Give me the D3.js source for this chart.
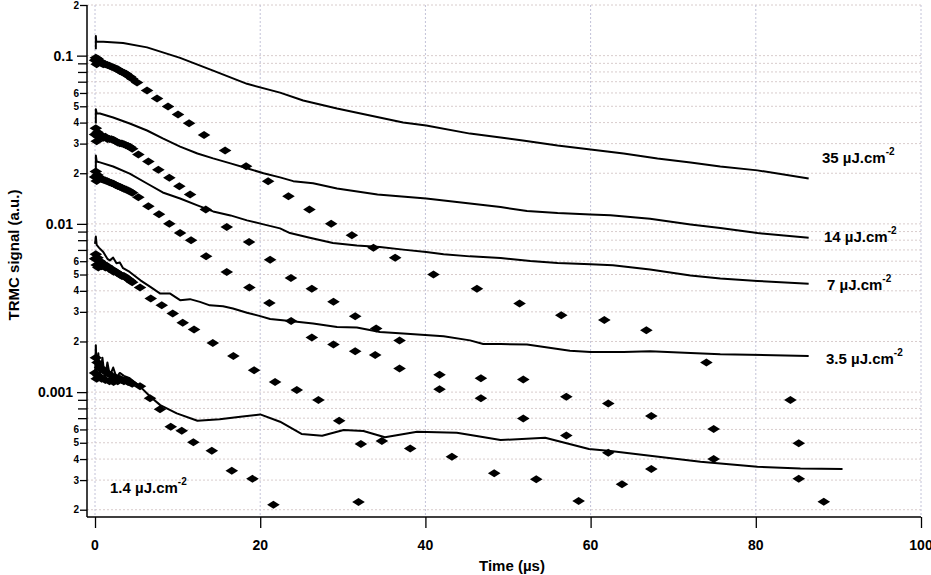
<!DOCTYPE html>
<html>
<head>
<meta charset="utf-8">
<title>TRMC decays</title>
<script src="https://d3js.org/d3.v7.min.js"></script>
<style>
  body { margin: 0; background: #fff; }
  text { font-family: "Liberation Sans", Arial, sans-serif; font-weight: bold; fill: #000; }
</style>
</head>
<body>
<div id="chart"></div>
<script>
// solid lines: [time (µs), TRMC signal]
const line35 = [[0.1,0.109],[0.1,0.131],[0.15,0.121],[1.0,0.121],[3.4,0.119],[6.3,0.112],[10.3,0.097],[14.3,0.0815],[18.4,0.068],[22.4,0.0603],[25.2,0.0541],[29.3,0.0485],[33.3,0.0441],[37.3,0.0400],[40.1,0.0384],[45.4,0.0344],[49.1,0.0326],[51.8,0.0313],[56.0,0.0292],[60.0,0.0277],[64.0,0.0262],[68.1,0.0245],[72.1,0.0232],[75.7,0.0219],[80.2,0.0208],[86.4,0.0186]];
const line14 = [[0.1,0.0395],[0.1,0.048],[0.2,0.0455],[0.6,0.0453],[2.2,0.0429],[4.2,0.0395],[6.3,0.0359],[8.2,0.0322],[10.3,0.0288],[12.4,0.0262],[14.3,0.0245],[16.4,0.0229],[18.4,0.0214],[20.4,0.0200],[22.4,0.0189],[24.0,0.01795],[26.4,0.01746],[29.3,0.01625],[34.2,0.01496],[40.1,0.01416],[45.4,0.01323],[49.1,0.01258],[52.3,0.01191],[56.0,0.01159],[60.0,0.01138],[62.4,0.01127],[67.2,0.01073],[72.1,0.00993],[75.7,0.00945],[80.2,0.00882],[86.4,0.00827]];
const line7 = [[0.1,0.0202],[0.1,0.0255],[0.2,0.0235],[0.6,0.0232],[2.2,0.02194],[4.2,0.0199],[6.3,0.01738],[8.2,0.01537],[10.3,0.01416],[12.4,0.01288],[14.3,0.01186],[16.4,0.01123],[18.4,0.01049],[20.4,0.00993],[22.4,0.0094],[23.6,0.00882],[26.0,0.00828],[28.8,0.00769],[31.7,0.00745],[34.5,0.00728],[37.3,0.00703],[40.1,0.0068],[42.2,0.00659],[45.4,0.00641],[49.1,0.00627],[52.7,0.00601],[56.0,0.00585],[60.0,0.00575],[62.7,0.00567],[67.2,0.00535],[72.1,0.00494],[75.7,0.00473],[80.2,0.00458],[86.4,0.00441]];
const line3_5 = [[0,0.0076],[0.1,0.0084],[0.2,0.0075],[0.5,0.0072],[1.0,0.0068],[1.5,0.0062],[1.8,0.00607],[2.2,0.0063],[2.6,0.00583],[3.0,0.0059],[3.4,0.00545],[4.2,0.00518],[5.5,0.00462],[6.7,0.00422],[7.9,0.00385],[9.1,0.00385],[10.3,0.00352],[11.5,0.00357],[12.7,0.00344],[13.9,0.00328],[15.5,0.00324],[16.7,0.00314],[18.4,0.00296],[20.0,0.00283],[21.2,0.00272],[23.6,0.00265],[26.4,0.00256],[29.3,0.00244],[31.7,0.00242],[34.5,0.00228],[37.3,0.00223],[42.2,0.00215],[45.4,0.00203],[47.0,0.00193],[49.1,0.00193],[52.3,0.00192],[57.5,0.00176],[60.0,0.00173],[64.0,0.00173],[67.2,0.00175],[72.1,0.00171],[75.7,0.00168],[86.4,0.00164]];
const line1_4 = [[0,0.0012],[0.1,0.0019],[0.2,0.0013],[0.4,0.0017],[0.6,0.00125],[0.9,0.0016],[1.2,0.0012],[1.5,0.0015],[1.8,0.00125],[2.2,0.0014],[2.6,0.00122],[3.0,0.0013],[3.5,0.00125],[4.2,0.00121],[5.5,0.001075],[6.7,0.000938],[7.9,0.000837],[9.9,0.000747],[12.4,0.000676],[15.1,0.000689],[17.6,0.000713],[20.0,0.000737],[22.4,0.000667],[25.0,0.000564],[27.5,0.000551],[30.1,0.000595],[32.5,0.000587],[35.1,0.000539],[39.0,0.000581],[43.8,0.000573],[46.2,0.000548],[49.1,0.000519],[54.5,0.000536],[59.8,0.000459],[62.4,0.000447],[67.2,0.000419],[73.3,0.000386],[80.2,0.00036],[85.4,0.000352],[90.5,0.000349]];

// diamond series: [time (µs), TRMC signal]
const pts35 = [[0,0.094],[0.1,0.097],[0.2,0.089],[0.3,0.096],[0.4,0.091],[0.6,0.093],[0.8,0.090],[1.0,0.089],[1.25,0.089],[1.5,0.088],[1.75,0.087],[2.0,0.086],[2.25,0.085],[2.5,0.084],[2.75,0.083],[3.0,0.081],[3.25,0.080],[3.5,0.079],[3.75,0.078],[4.0,0.076],[4.25,0.075],[4.5,0.073],[5.09,0.0692],[6.30,0.0620],[7.51,0.0556],[8.84,0.0498],[10.05,0.0447],[11.39,0.0397],[13.20,0.0338],[15.75,0.0273],[18.29,0.0220],[20.96,0.01795],[23.42,0.01462],[25.96,0.01219],[28.59,0.01003],[31.10,0.00855],[33.71,0.00722],[36.34,0.00630],[40.98,0.00501],[46.24,0.00412],[51.40,0.00336],[56.45,0.00286],[61.66,0.00268],[66.75,0.00233],[74.02,0.00150],[84.19,0.000897]];
const pts14 = [[0,0.034],[0.1,0.037],[0.2,0.031],[0.3,0.035],[0.4,0.033],[0.6,0.034],[0.8,0.033],[1.0,0.0325],[1.25,0.033],[1.5,0.032],[1.75,0.032],[2.0,0.0318],[2.25,0.0315],[2.5,0.031],[2.75,0.0305],[3.0,0.0302],[3.25,0.030],[3.5,0.0297],[3.75,0.0293],[4.0,0.029],[4.25,0.0286],[4.5,0.028],[5.25,0.02585],[6.46,0.0235],[7.67,0.0210],[9.00,0.0188],[10.21,0.01676],[11.51,0.01496],[13.41,0.01219],[15.95,0.00957],[18.65,0.00780],[21.20,0.00613],[23.72,0.00477],[26.25,0.00412],[28.87,0.00344],[31.50,0.00282],[34.04,0.00239],[36.87,0.00203],[41.71,0.00127],[46.72,0.00121],[51.85,0.00119],[57.06,0.000937],[62.14,0.000857],[67.35,0.000720],[74.90,0.000603],[85.20,0.000496]];
const pts7 = [[0,0.019],[0.1,0.0205],[0.2,0.018],[0.3,0.0195],[0.4,0.0188],[0.6,0.0187],[0.8,0.0185],[1.0,0.0183],[1.25,0.0181],[1.5,0.0179],[1.75,0.0177],[2.0,0.0175],[2.25,0.0173],[2.5,0.0170],[2.75,0.0168],[3.0,0.0166],[3.25,0.0164],[3.5,0.0162],[3.75,0.0160],[4.0,0.0158],[4.25,0.0156],[4.5,0.0153],[5.25,0.01442],[6.46,0.01275],[7.75,0.01139],[9.00,0.01003],[10.30,0.00882],[11.63,0.00798],[13.45,0.00641],[15.95,0.00518],[18.69,0.00418],[21.11,0.00339],[23.74,0.00265],[26.25,0.00211],[28.87,0.00192],[31.50,0.00175],[33.92,0.00166],[36.87,0.00138],[41.71,0.00104],[46.72,0.000918],[51.85,0.000698],[57.06,0.000553],[62.14,0.000436],[67.35,0.000349],[74.90,0.000400],[85.20,0.000306]];
const pts3_5 = [[0,0.0062],[0.1,0.0066],[0.2,0.0057],[0.3,0.0063],[0.4,0.0055],[0.6,0.0060],[0.8,0.0056],[1.0,0.0058],[1.25,0.0055],[1.5,0.0056],[1.75,0.0054],[2.0,0.0054],[2.25,0.0052],[2.5,0.0052],[2.75,0.0051],[3.0,0.0050],[3.25,0.0049],[3.5,0.0049],[3.75,0.0048],[4.0,0.0047],[4.25,0.0046],[4.5,0.0045],[5.45,0.00418],[6.75,0.00360],[8.08,0.00328],[9.41,0.00293],[10.62,0.00258],[11.99,0.00236],[14.26,0.00196],[16.75,0.00164],[19.26,0.00135],[21.80,0.00115],[24.43,0.00103],[27.05,0.000897],[29.56,0.000676],[32.19,0.000491],[34.73,0.000512],[38.16,0.000463],[43.21,0.000413],[48.33,0.000329],[53.42,0.000303],[63.80,0.000283]];
const pts1_4 = [[0,0.0013],[0.1,0.0016],[0.2,0.0012],[0.3,0.0015],[0.4,0.00125],[0.6,0.0014],[0.8,0.0012],[1.0,0.00135],[1.25,0.00118],[1.5,0.0013],[1.75,0.00116],[2.0,0.00125],[2.25,0.00115],[2.5,0.00122],[2.75,0.00116],[3.0,0.0012],[3.25,0.00118],[3.5,0.00116],[3.75,0.00118],[4.0,0.00115],[4.25,0.00114],[4.5,0.00112],[5.45,0.001085],[6.66,0.000918],[7.87,0.000790],[9.17,0.000622],[10.50,0.000589],[11.91,0.000503],[14.14,0.000448],[16.56,0.000341],[19.06,0.000305],[21.60,0.000214],[31.90,0.000222],[58.55,0.000225],[88.23,0.000223]];

const fluences = ["35", "14", "7", "3.5", "1.4"];
const xTicks = [0, 20, 40, 60, 80, 100];
const yDecades = [0.001, 0.01, 0.1];

const svg = d3.select("#chart").append("svg").attr("width", 931).attr("height", 575);

const x = d3.scaleLinear().domain([-0.97, 100]).range([87, 921]);
const y = d3.scaleLog().domain([1.81e-4, 0.2]).range([517, 5]);
const yTicks = y.ticks();

// grid
svg.append("g").selectAll("line").data(yTicks).enter().append("line")
  .attr("x1", 87).attr("x2", 921)
  .attr("y1", d => y(d)).attr("y2", d => y(d))
  .attr("stroke", "#d8cccc").attr("stroke-width", 1).attr("stroke-dasharray", "2,2");
svg.append("g").selectAll("line").data(xTicks).enter().append("line")
  .attr("x1", d => x(d)).attr("x2", d => x(d))
  .attr("y1", 5).attr("y2", 517)
  .attr("stroke", "#c2c2d8").attr("stroke-width", 1).attr("stroke-dasharray", "2,2");

// axes
const mant = d => Math.round(d / Math.pow(10, Math.floor(Math.log10(d) + 1e-9)));
const yAxis = svg.append("g").attr("transform", "translate(87,0)")
  .call(d3.axisLeft(y).tickValues(yTicks).tickSize(9).tickFormat(""));
yAxis.select(".domain").attr("stroke-width", 1.5).attr("d", "M0,5V517");
yAxis.selectAll(".tick line").attr("stroke-width", 1.3)
  .attr("x2", d => yDecades.includes(d) ? -10 : (mant(d) <= 6 ? -7 : -9));

svg.append("g").selectAll("text").data(yTicks.filter(d => yDecades.includes(d) || mant(d) <= 6)).enter()
  .append("text")
  .attr("x", d => yDecades.includes(d) ? 73 : 79)
  .attr("y", d => y(d)).attr("dy", "0.36em")
  .attr("text-anchor", "end")
  .style("font-size", d => yDecades.includes(d) ? "14px" : "10px")
  .text(d => yDecades.includes(d) ? String(d) : String(mant(d)));

const xAxis = svg.append("g").attr("transform", "translate(0,517)")
  .call(d3.axisBottom(x).tickValues(xTicks).tickSize(11).tickFormat(""));
xAxis.select(".domain").attr("stroke-width", 1.5).attr("d", "M87,0H921");
xAxis.selectAll(".tick line").attr("stroke-width", 1.3);
svg.append("g").selectAll("text").data(xTicks).enter().append("text")
  .attr("x", d => x(d)).attr("y", 550)
  .attr("text-anchor", "middle").style("font-size", "14px")
  .text(d => d);

svg.append("text").attr("x", 512).attr("y", 571).attr("text-anchor", "middle")
  .style("font-size", "15px").text("Time (µs)");
svg.append("text").attr("transform", "translate(19,255) rotate(-90)")
  .attr("text-anchor", "middle").style("font-size", "15px").text("TRMC signal (a.u.)");

// data
const line = d3.line().x(d => x(d[0])).y(d => y(d[1]));
[line35, line14, line7, line3_5, line1_4].forEach(s => {
  svg.append("path").datum(s).attr("d", line)
    .attr("fill", "none").attr("stroke", "#000").attr("stroke-width", 2)
    .attr("stroke-linejoin", "round");
});

const diamond = "M-6.3,0L0,-4L6.3,0L0,4Z";
[pts35, pts14, pts7, pts3_5, pts1_4].forEach(s => {
  svg.append("g").selectAll("path").data(s).enter().append("path")
    .attr("d", diamond)
    .attr("transform", d => `translate(${x(d[0])},${y(d[1])})`)
    .attr("fill", "#000");
});

// fluence labels
const labelPos = [[822, 163], [824, 242], [827, 290], [826, 364], [110, 493]];
fluences.forEach((f, i) => {
  const t = svg.append("text").attr("x", labelPos[i][0]).attr("y", labelPos[i][1]).style("font-size", "15px");
  t.append("tspan").text(f + " µJ.cm");
  t.append("tspan").attr("dy", -8).style("font-size", "10px").text("-2");
});
</script>
</body>
</html>
